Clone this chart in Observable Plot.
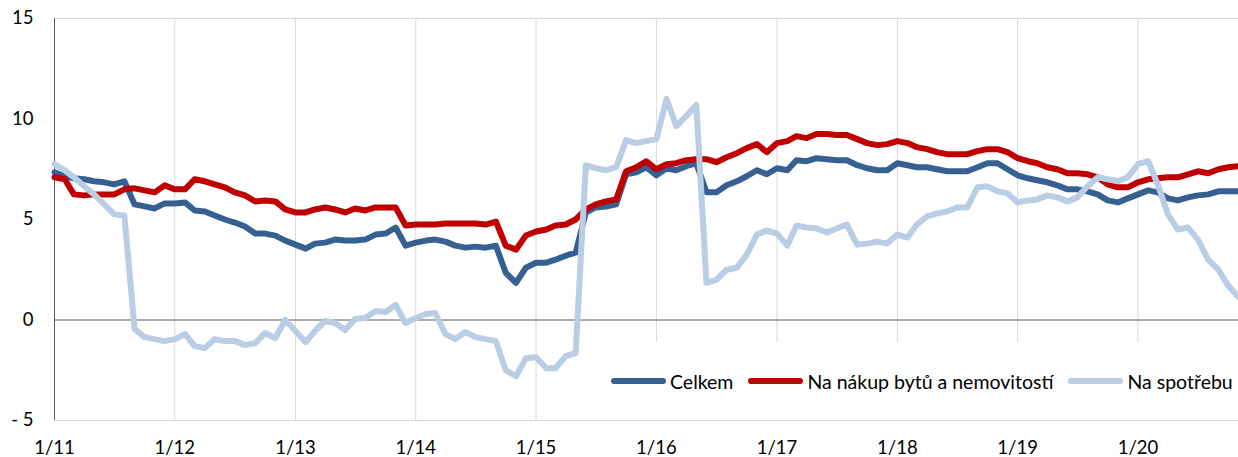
<!DOCTYPE html>
<html>
<head>
<meta charset="utf-8">
<script src="https://cdn.jsdelivr.net/npm/d3@7"></script>
<script src="https://cdn.jsdelivr.net/npm/@observablehq/plot@0.6"></script>
<style>
  html, body { margin: 0; padding: 0; background: #fff; }
  #wrap { position: relative; width: 1238px; height: 457px; font-family: Lato, "Open Sans", sans-serif; }
  #legend { position: absolute; left: 600px; top: 342px; width: 638px; height: 78px; background: #fff;
            display: flex; align-items: center; padding-left: 11px; box-sizing: border-box;
            font-size: 19.5px; color: #000; white-space: nowrap; }
  .item { display: flex; align-items: center; margin-right: 15px; }
  .swatch { width: 55px; height: 6px; border-radius: 3px; margin-right: 4px; }
</style>
</head>
<body>
<div id="wrap"><div id="legend"></div></div>
<script>
// Series names and colours
const seriesNames = ["Celkem", "Na nákup bytů a nemovitostí", "Na spotřebu"];
const seriesColors = ["#376092", "#C00000", "#B9CDE5"];

// Monthly values, 1/2011 .. 11/2020
const celkem = [
  7.35, 7.15, 7.05, 7.0, 6.9, 6.85, 6.75, 6.9, 5.75, 5.65, 5.55, 5.8,
  5.8, 5.85, 5.45, 5.4, 5.2, 5.0, 4.85, 4.65, 4.3, 4.3, 4.2, 3.95,
  3.75, 3.55, 3.8, 3.85, 4.0, 3.95, 3.95, 4.0, 4.25, 4.3, 4.6, 3.7,
  3.85, 3.95, 4.0, 3.9, 3.7, 3.6, 3.65, 3.6, 3.7, 2.35, 1.85, 2.6,
  2.85, 2.85, 3.0, 3.2, 3.35, 5.35, 5.6, 5.65, 5.75, 7.25, 7.35, 7.6,
  7.2, 7.55, 7.45, 7.65, 7.8, 6.35, 6.35, 6.7, 6.9, 7.15, 7.45, 7.25,
  7.55, 7.45, 7.95, 7.9, 8.05, 8.0, 7.95, 7.95, 7.7, 7.55, 7.45, 7.45,
  7.8, 7.7, 7.6, 7.6, 7.5, 7.4, 7.4, 7.4, 7.6, 7.8, 7.8, 7.5,
  7.2, 7.05, 6.95, 6.85, 6.7, 6.5, 6.5, 6.4, 6.25, 5.95, 5.85, 6.05,
  6.25, 6.45, 6.35, 6.05, 5.95, 6.1, 6.2, 6.25, 6.4, 6.4, 6.4
];
const nakup = [
  7.1, 7.0, 6.25, 6.2, 6.25, 6.25, 6.25, 6.5, 6.55, 6.45, 6.35, 6.7,
  6.5, 6.5, 7.0, 6.9, 6.75, 6.6, 6.35, 6.2, 5.9, 5.95, 5.9, 5.5,
  5.35, 5.35, 5.5, 5.6, 5.5, 5.35, 5.55, 5.45, 5.6, 5.6, 5.6, 4.7,
  4.75, 4.75, 4.75, 4.8, 4.8, 4.8, 4.8, 4.75, 4.9, 3.7, 3.5, 4.2,
  4.4, 4.5, 4.7, 4.75, 5.0, 5.5, 5.75, 5.9, 6.0, 7.4, 7.6, 7.9,
  7.5, 7.75, 7.8, 7.95, 8.0, 8.0, 7.85, 8.1, 8.3, 8.55, 8.75, 8.35,
  8.8, 8.9, 9.15, 9.05, 9.25, 9.25, 9.2, 9.2, 9.0, 8.8, 8.7, 8.75,
  8.9, 8.8, 8.6, 8.5, 8.35, 8.25, 8.25, 8.25, 8.4, 8.5, 8.5, 8.35,
  8.05, 7.9, 7.8, 7.6, 7.5, 7.3, 7.3, 7.25, 7.1, 6.75, 6.6, 6.6,
  6.85, 7.0, 7.05, 7.1, 7.1, 7.25, 7.4, 7.3, 7.5, 7.6, 7.65
];
const spotreba = [
  7.75, 7.45, 7.1, 6.65, 6.25, 5.75, 5.25, 5.2, -0.45, -0.85, -0.95, -1.05,
  -0.95, -0.7, -1.3, -1.4, -0.95, -1.05, -1.05, -1.25, -1.15, -0.65, -0.9, 0.0,
  -0.55, -1.1, -0.55, -0.05, -0.15, -0.5, 0.05, 0.1, 0.45, 0.4, 0.75, -0.15,
  0.1, 0.3, 0.35, -0.7, -0.95, -0.6, -0.85, -0.95, -1.05, -2.5, -2.8, -1.9,
  -1.85, -2.4, -2.4, -1.8, -1.65, 7.7, 7.55, 7.45, 7.6, 8.95, 8.8, 8.9,
  9.0, 11.0, 9.65, 10.15, 10.7, 1.85, 2.0, 2.5, 2.6, 3.25, 4.25, 4.45,
  4.3, 3.7, 4.7, 4.6, 4.55, 4.35, 4.55, 4.75, 3.75, 3.8, 3.9, 3.8,
  4.25, 4.1, 4.75, 5.15, 5.3, 5.4, 5.6, 5.6, 6.6, 6.65, 6.4, 6.3,
  5.85, 5.95, 6.0, 6.2, 6.1, 5.9, 6.1, 6.65, 7.1, 7.0, 6.9, 7.1,
  7.75, 7.9, 6.75, 5.25, 4.5, 4.6, 4.0, 3.0, 2.5, 1.7, 1.15
];

// Axis ticks
const yTicks = [-5, 0, 5, 10, 15];
const xTickYears = [2011, 2012, 2013, 2014, 2015, 2016, 2017, 2018, 2019, 2020];

const startDate = new Date(Date.UTC(2011, 0, 1));
const endDate = new Date(Date.UTC(2020, 10, 1));
const months = d3.utcMonth.range(startDate, d3.utcMonth.offset(endDate, 1));
const xTicks = xTickYears.map(y => new Date(Date.UTC(y, 0, 1)));

const allSeries = [celkem, nakup, spotreba];
const rows = allSeries.map(vals => vals.map((v, i) => ({date: months[i], value: v})));

const fmtX = d => `${d.getUTCMonth() + 1}/${String(d.getUTCFullYear()).slice(2)}`;
const fmtY = d => d < 0 ? `- ${Math.abs(d)}` : `${d}`;

const chart = Plot.plot({
  width: 1238,
  height: 457,
  marginLeft: 54,
  marginRight: 0,
  marginTop: 18,
  marginBottom: 37,
  style: {fontFamily: "Lato, 'Open Sans', sans-serif", fontSize: "18.5px", color: "#000", background: "#fff", overflow: "visible"},
  x: {type: "utc", domain: [startDate, endDate]},
  y: {domain: [-5, 15]},
  marks: [
    Plot.gridX(xTicks, {stroke: "#d9d9d9", strokeOpacity: 1, strokeWidth: 1}),
    Plot.ruleY([15, -5], {stroke: "#d9d9d9", strokeWidth: 1}),
    Plot.ruleY([0], {stroke: "#595959", strokeWidth: 1}),
    Plot.ruleX([startDate], {stroke: "#595959", strokeWidth: 1}),
    Plot.axisY(yTicks, {tickSize: 0, tickPadding: 21, tickFormat: fmtY, label: null, fill: "#000"}),
    Plot.axisX(xTicks, {tickSize: 0, tickPadding: 20, tickFormat: fmtX, label: null, fill: "#000"}),
    ...rows.map((r, k) => Plot.line(r, {
      x: "date", y: "value", stroke: seriesColors[k], strokeWidth: 6,
      strokeLinejoin: "round", strokeLinecap: "round"
    }))
  ]
});

const wrap = document.getElementById("wrap");
wrap.insertBefore(chart, wrap.firstChild);

const legend = document.getElementById("legend");
seriesNames.forEach((name, k) => {
  const item = document.createElement("div");
  item.className = "item";
  const sw = document.createElement("span");
  sw.className = "swatch";
  sw.style.background = seriesColors[k];
  const tx = document.createElement("span");
  tx.textContent = name;
  item.appendChild(sw);
  item.appendChild(tx);
  legend.appendChild(item);
});
</script>
</body>
</html>
